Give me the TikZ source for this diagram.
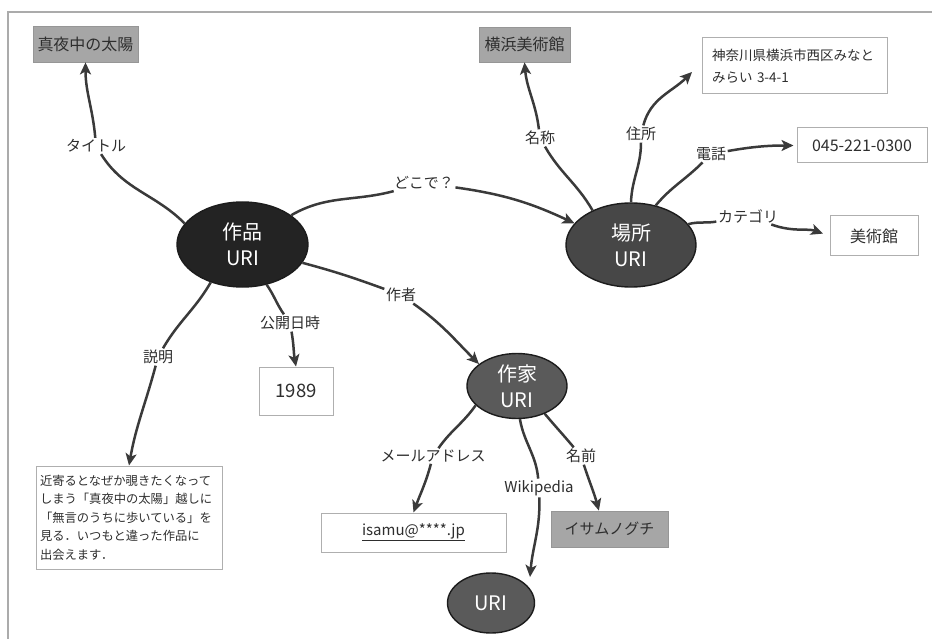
\documentclass[tikz,border=0pt]{standalone}
\usepackage{fontspec}
\setmainfont{Noto Sans CJK JP}
\usetikzlibrary{arrows.meta,shapes.geometric}
\definecolor{txt}{HTML}{2E2E2E}
\definecolor{lcol}{HTML}{3A3A3A}
\definecolor{cw}{HTML}{232323}
\definecolor{cp}{HTML}{474747}
\definecolor{ca}{HTML}{5A5A5A}
\definecolor{ecol}{HTML}{1C1C1C}
\definecolor{gbox}{HTML}{A6A6A6}
\definecolor{gboxd}{HTML}{969696}
\definecolor{wboxd}{HTML}{AFAFAF}
\definecolor{framec}{HTML}{ABABAB}
\begin{document}
\begin{tikzpicture}[x=1pt,y=1pt,
  every node/.style={text=txt},
  uri/.style={ellipse, draw=ecol, line width=1.4pt, text=white, align=center,
    font=\fontsize{20}{26}\selectfont, inner sep=0pt},
  graybox/.style={rectangle, fill=gbox, draw=gboxd, line width=0.8pt,
    font=\fontsize{16}{18}\selectfont, inner sep=0pt},
  whitebox/.style={rectangle, fill=white, draw=wboxd, line width=1pt, inner sep=0pt},
  lbl/.style={font=\fontsize{15}{17}\selectfont, inner sep=1.5pt},
  ln/.style={draw=lcol, line width=2.5pt},
  ar/.style={ln, -{Stealth[length=12pt,width=11pt,inset=3pt]}},
]
\useasboundingbox (0,0) rectangle (932,-639);
\fill[white] (0,0) rectangle (932,-639);
\draw[framec, line width=1.2pt] (932,-12) -- (8,-12) -- (8,-639);

% main resource nodes
\node[uri, fill=cw, minimum width=131pt, minimum height=85pt] (w) at (242.5,-244.5) {作品\\URI};
\node[uri, fill=cp, minimum width=130pt, minimum height=84pt] (p) at (631,-245) {場所\\URI};
\node[uri, fill=ca, minimum width=100pt, minimum height=65pt] (a) at (517,-386) {作家\\URI};
\node[uri, fill=ca, minimum width=87pt, minimum height=60pt] (u) at (491,-603) {URI};

% value boxes
\node[graybox, minimum width=105pt, minimum height=36pt] (t) at (85.5,-44) {真夜中の太陽};
\node[graybox, minimum width=91pt, minimum height=35pt] (y2) at (524.5,-44.5) {横浜美術館};
\node[whitebox, text width=165pt, inner xsep=10pt, minimum height=56pt, align=left,
  font=\fontsize{13.5}{21.5}\selectfont] (addr) at (794.5,-66) {神奈川県横浜市西区みなと\\みらい 3-4-1};
\node[whitebox, minimum width=130pt, minimum height=35pt, font=\fontsize{16}{18}\selectfont] (ph) at (862,-145.5) {045-221-0300};
\node[whitebox, minimum width=88pt, minimum height=40pt, font=\fontsize{16}{18}\selectfont] (cat) at (874,-236) {美術館};
\node[whitebox, minimum width=74pt, minimum height=48pt, font=\fontsize{18.5}{20}\selectfont] (yr) at (296,-391) {1989};
\node[whitebox, text width=178pt, inner xsep=4pt, minimum height=103pt, align=left,
  font=\fontsize{12.3}{18.5}\selectfont] (d) at (129,-517.5)
  {近寄るとなぜか覗きたくなって\\しまう「真夜中の太陽」越しに\\「無言のうちに歩いている」を\\見る．いつもと違った作品に\\出会えます．};
\node[whitebox, minimum width=185pt, minimum height=39pt, font=\fontsize{15}{17}\selectfont] (em) at (413.5,-532.5) {\underline{isamu@****.jp}};
\node[graybox, minimum width=117pt, minimum height=36pt, font=\fontsize{15}{17}\selectfont] (nm) at (609.5,-529) {イサムノグチ};

% free arrow ends
\coordinate (addrtip) at (692,-72);
\coordinate (wikitip) at (530,-577);

% labels
\node[lbl] (lt) at (96,-146) {タイトル};
\node[lbl] (ld) at (424,-183) {どこで？};
\node[lbl] (lmei) at (540,-138) {名称};
\node[lbl] (lju) at (641,-134) {住所};
\node[lbl] (lden) at (711,-154) {電話};
\node[lbl] (lcat) at (748,-216) {カテゴリ};
\node[lbl] (lsak) at (401,-295) {作者};
\node[lbl] (lkou) at (290,-323) {公開日時};
\node[lbl] (lset) at (158,-357) {説明};
\node[lbl] (lmail) at (433,-456) {メールアドレス};
\node[lbl] (lwiki) at (539,-488) {Wikipedia};
\node[lbl] (lnam) at (581,-456) {名前};

% connectors
\draw[ln] (w.160) to[out=135,in=-58] (lt);
\draw[ar] (lt) to[out=95,in=-90] (t.south);

\draw[ln] (w.31) to[out=30,in=195] (ld);
\draw[ar] (ld) to[out=-8,in=155] (p.159);

\draw[ln] (w.-17) to[out=-15,in=160] (lsak);
\draw[ar] (lsak) to[out=-35,in=135] (a.150);

\draw[ln] (w.-59) to[out=-55,in=125] (lkou);
\draw[ar] (lkou) to[out=-80,in=100] (yr.north);

\draw[ln] (w.-130) to[out=-120,in=60] (lset);
\draw[ar] (lset) to[out=-105,in=80] (d.north);

\draw[ln] (p.138) to[out=120,in=-60] (lmei);
\draw[ar] (lmei) to[out=97,in=-85] (y2.south);

\draw[ln] (p.north) to[out=88,in=-90] (lju);
\draw[ar] (lju) to[out=75,in=-135] (addrtip);

\draw[ln] (p.58) to[out=50,in=-135] (lden);
\draw[ar, shorten >=3pt] (lden) to[out=10,in=180] (ph.west);

\draw[ln] (p.20) to[out=15,in=190] (lcat);
\draw[ar, shorten >=7pt] (lcat) to[out=-20,in=160] (cat.west);

\draw[ln] (a.205) to[out=-125,in=55] (lmail);
\draw[ar] (lmail) to[out=-105,in=70] (em.north);

\draw[ln] (a.-85) to[out=-80,in=95] (lwiki);
\draw[ar] (lwiki) to[out=-88,in=85] (wikitip);

\draw[ln] (a.-45) to[out=-50,in=130] (lnam);
\draw[ar] (lnam) to[out=-72,in=105] (nm.120);
\end{tikzpicture}
\end{document}
